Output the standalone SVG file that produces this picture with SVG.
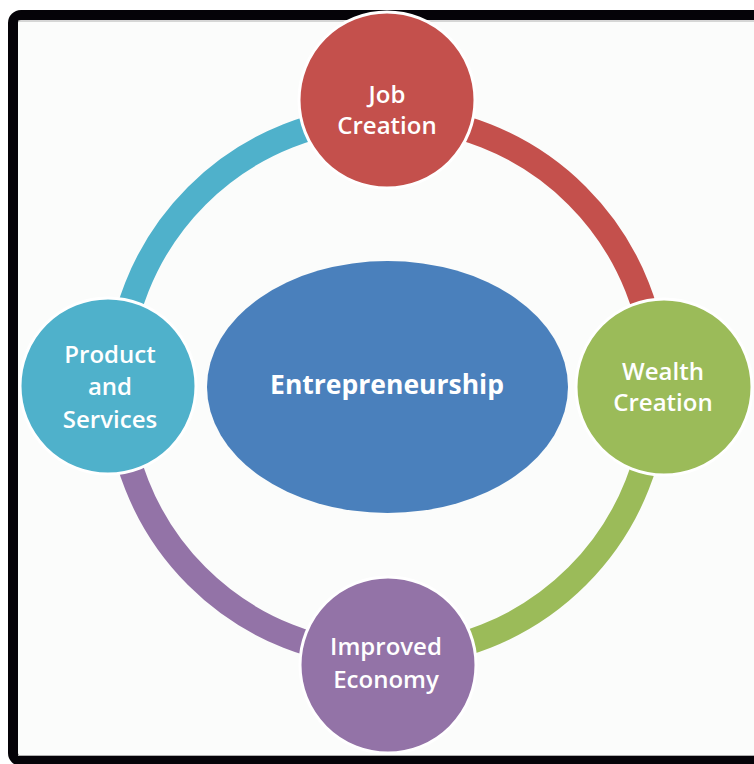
<svg xmlns="http://www.w3.org/2000/svg" width="754" height="764" viewBox="0 0 754 764">
  <style>
    .lbl { font-family: "Open Sans", "Liberation Sans", sans-serif; font-weight: 600; font-size: 24px; fill: #ffffff; text-anchor: middle; }
    .core { font-family: "Open Sans", "Liberation Sans", sans-serif; font-weight: 700; font-size: 26.5px; fill: #ffffff; text-anchor: middle; }
    .node { stroke: #ffffff; stroke-width: 3; }
    .arc { fill: none; stroke-width: 25; }
  </style>
  <rect x="0" y="0" width="754" height="764" fill="#ffffff"/>
  <!-- framed panel -->
  <rect x="13" y="15" width="760" height="746" rx="8" fill="#fbfcfb" stroke="#050308" stroke-width="10"/>
  <line x1="18" y1="21" x2="754" y2="21" stroke="#b0b0b0" stroke-width="1"/>
  <line x1="18" y1="755.5" x2="754" y2="755.5" stroke="#b0b0b0" stroke-width="1"/>

  <!-- ring segments, centre (387,386), radius 269 -->
  <g id="connectors">
    <path class="arc" stroke="#c4504c" d="M387 117 A269 269 0 0 1 656 386"/>
    <path class="arc" stroke="#9bbb59" d="M656 386 A269 269 0 0 1 387 655"/>
    <path class="arc" stroke="#9373a7" d="M387 655 A269 269 0 0 1 118 386"/>
    <path class="arc" stroke="#4fb1cb" d="M118 386 A269 269 0 0 1 387 117"/>
  </g>

  <g id="entrepreneurship">
    <ellipse cx="387.5" cy="387" rx="180.5" ry="126" fill="#4a80bc"/>
    <text class="core" x="387" y="394">Entrepreneurship</text>
  </g>

  <g id="job-creation">
    <circle class="node" cx="387" cy="100" r="88" fill="#c4504c"/>
    <text class="lbl" x="387" y="103">Job</text>
    <text class="lbl" x="387" y="134">Creation</text>
  </g>

  <g id="wealth-creation">
    <circle class="node" cx="664" cy="387" r="88" fill="#9bbb59"/>
    <text class="lbl" x="663" y="380">Wealth</text>
    <text class="lbl" x="663" y="411">Creation</text>
  </g>

  <g id="improved-economy">
    <circle class="node" cx="388" cy="665" r="88" fill="#9373a7"/>
    <text class="lbl" x="386" y="655">Improved</text>
    <text class="lbl" x="386" y="688">Economy</text>
  </g>

  <g id="product-services">
    <circle class="node" cx="108" cy="386" r="88" fill="#4fb1cb"/>
    <text class="lbl" x="110" y="363">Product</text>
    <text class="lbl" x="110" y="395">and</text>
    <text class="lbl" x="110" y="428">Services</text>
  </g>
</svg>
